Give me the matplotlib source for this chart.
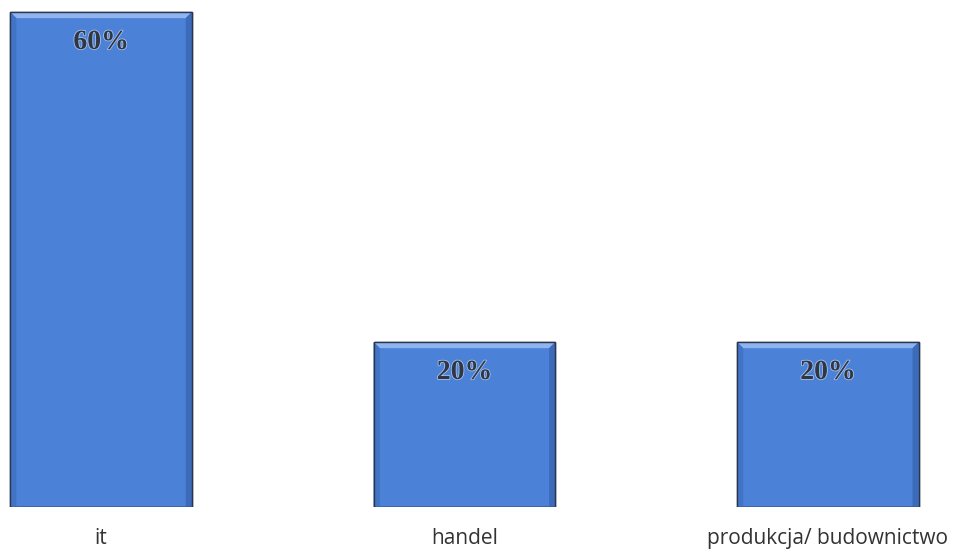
import numpy as np
import matplotlib.pyplot as plt
from matplotlib.patches import Polygon
import matplotlib.patheffects as pe

categories = ['it', 'handel', 'produkcja/ budownictwo']
shares = [60, 20, 20]
value_labels = ['60%', '20%', '20%']

fig = plt.figure(figsize=(9.54, 5.53), dpi=100)
ax = fig.add_axes([0, 46 / 553, 1, 507 / 553])

x = np.arange(len(categories))
bars = ax.bar(x, shares, width=0.5, color='#4b81d6', edgecolor='#2b3550',
              linewidth=1.0, zorder=2)

# bevel: light top strip, darker sides
bx, by = 0.017, 0.75
for b in bars:
    x0, w, h = b.get_x(), b.get_width(), b.get_height()
    x1 = x0 + w
    top = Polygon([[x0, h], [x1, h], [x1 - bx, h - by], [x0 + bx, h - by]],
                  closed=True, facecolor='#8fb4ef', edgecolor='none', zorder=3)
    left = Polygon([[x0, 0], [x0, h], [x0 + bx, h - by], [x0 + bx, 0]],
                   closed=True, facecolor='#4274c6', edgecolor='none', zorder=3)
    right = Polygon([[x1, 0], [x1, h], [x1 - bx, h - by], [x1 - bx, 0]],
                    closed=True, facecolor='#3b6bb9', edgecolor='none', zorder=3)
    for p in (top, left, right):
        ax.add_patch(p)
    ax.add_patch(Polygon([[x0, 0], [x1, 0], [x1, h], [x0, h]], closed=True,
                         fill=False, edgecolor='#2b3550', linewidth=1.0, zorder=4))

for i, lab in enumerate(value_labels):
    ax.text(x[i], shares[i] - 3.7, lab, ha='center', va='center',
            fontsize=20, family='Liberation Serif', fontweight='bold',
            color='#2f3644', zorder=5,
            path_effects=[pe.withStroke(linewidth=1.2, foreground='#a8c2ea')])

ax.set_xlim(-0.278, 2.347)
ax.set_ylim(0, 61.45)
ax.set_xticks(x)
ax.set_xticklabels(categories, fontsize=15, family='Open Sans', color='#333333')
ax.tick_params(axis='x', length=0, pad=15)
ax.set_yticks([])
for s in ax.spines.values():
    s.set_visible(False)

fig.savefig('out.png', dpi=100)
